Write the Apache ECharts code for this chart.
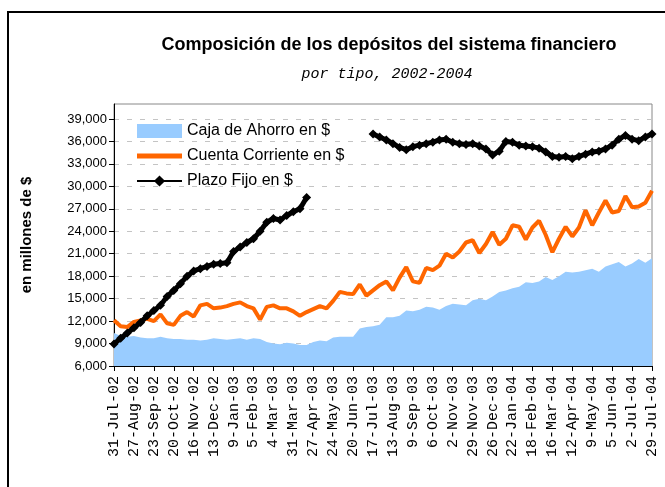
<!DOCTYPE html>
<html>
<head>
<meta charset="utf-8">
<script src="https://cdn.jsdelivr.net/npm/echarts@6/dist/echarts.min.js"></script>
<style>
  html, body { margin: 0; padding: 0; background: #fff; }
  #chart { width: 665px; height: 487px; }
</style>
</head>
<body>
<div id="chart"></div>
<script>
// dias desde el 31-Jul-02 (muestra cada 9 dias)
const days = [0, 9, 18, 27, 36, 45, 54, 63, 72, 81, 90, 99, 108, 117, 126, 135, 144, 153, 162, 171,
  180, 189, 198, 207, 216, 225, 234, 243, 252, 261, 270, 279, 288, 297, 306, 315, 324, 333, 342, 351,
  360, 369, 378, 387, 396, 405, 414, 423, 432, 441, 450, 459, 468, 477, 486, 495, 504, 513, 522, 531,
  540, 549, 558, 567, 576, 585, 594, 603, 612, 621, 630, 639, 648, 657, 666, 675, 684, 693, 702, 711,
  720, 729];

// Caja de Ahorro en $
const caja = [10400, 10000, 9900, 10000, 9800, 9700, 9700, 9900, 9700, 9600, 9600, 9500, 9500, 9400, 9500, 9700, 9600, 9500, 9600, 9700,
  9500, 9700, 9600, 9200, 9000, 8900, 9100, 9000, 8800, 8800, 9200, 9400, 9300, 9800, 9900, 9900, 9900, 11000, 11200, 11300,
  11500, 12500, 12500, 12700, 13400, 13300, 13500, 13900, 13800, 13500, 14000, 14300, 14200, 14100, 14800, 15000, 14800, 15300, 15900, 16100,
  16400, 16600, 17200, 17100, 17300, 17900, 17500, 18000, 18600, 18500, 18600, 18800, 19000, 18600, 19300, 19600, 19900, 19300, 19700, 20300,
  19800, 20400];

// Cuenta Corriente en $
const corriente = [12100, 11300, 11200, 11900, 12100, 12300, 12000, 12900, 11700, 11500, 12700, 13200, 12600, 14100, 14300, 13700, 13800, 14000, 14300, 14500,
  14000, 13700, 12200, 13900, 14100, 13700, 13700, 13300, 12700, 13200, 13600, 14000, 13700, 14700, 15900, 15700, 15600, 16900, 15400, 16100,
  16800, 17300, 16100, 17800, 19200, 17300, 17100, 19100, 18800, 19400, 21000, 20500, 21300, 22500, 22800, 21100, 22300, 23900, 22200, 23000,
  24800, 24600, 22900, 24500, 25400, 23500, 21200, 23000, 24600, 23300, 24500, 26800, 24800, 26500, 28100, 26500, 26700, 28700, 27200, 27300,
  27800, 29400];

// Plazo Fijo en $ (sin datos entre abril y julio de 2003)
const plazo = [8950, 9700, 10400, 11100, 11800, 12700, 13400, 14100, 15300, 16100, 17000, 18000, 18700, 19000, 19300, 19600, 19700, 19800, 21300, 21900,
  22500, 23000, 24000, 25200, 25700, 25500, 26100, 26600, 27000, 28500, null, null, null, null, null, null, null, null, null, 37000,
  36600, 36200, 35700, 35200, 34900, 35300, 35500, 35700, 35900, 36200, 36300, 35900, 35700, 35600, 35700, 35400, 35000, 34200, 34700, 36000,
  35900, 35500, 35400, 35300, 35100, 34600, 34000, 33900, 34000, 33700, 34000, 34300, 34600, 34700, 35000, 35500, 36300, 36800, 36300, 36100,
  36600, 37000];

const dateLabels = ['31-Jul-02', '27-Aug-02', '23-Sep-02', '20-Oct-02', '16-Nov-02', '13-Dec-02', '9-Jan-03',
  '5-Feb-03', '4-Mar-03', '31-Mar-03', '27-Apr-03', '24-May-03', '20-Jun-03', '17-Jul-03', '13-Aug-03',
  '9-Sep-03', '6-Oct-03', '2-Nov-03', '29-Nov-03', '26-Dec-03', '22-Jan-04', '18-Feb-04', '16-Mar-04',
  '12-Apr-04', '9-May-04', '5-Jun-04', '2-Jul-04', '29-Jul-04'];
const labelStep = 27;

const yTicks = [6000, 9000, 12000, 15000, 18000, 21000, 24000, 27000, 30000, 33000, 36000, 39000];

const pairs = (vals) => days.map((d, i) => [d, vals[i]]);

const chart = echarts.init(document.getElementById('chart'), null, { renderer: 'canvas' });

chart.setOption({
  backgroundColor: '#ffffff',
  animation: false,
  title: [{
    text: 'Composición de los depósitos del sistema financiero',
    left: 384, top: 31, textAlign: 'center',
    textStyle: { fontFamily: 'Liberation Sans', fontWeight: 'bold', fontSize: 18, color: '#000' }
  }, {
    text: 'por tipo, 2002-2004',
    left: 382, top: 62, textAlign: 'center',
    textStyle: { fontFamily: 'Liberation Mono', fontStyle: 'italic', fontWeight: 'normal', fontSize: 15, color: '#000' }
  }],
  graphic: [{
    type: 'rect',
    shape: { x: 8, y: 12, width: 700, height: 520 },
    style: { fill: null, stroke: '#000', lineWidth: 2 },
    silent: true
  }],
  legend: {
    orient: 'vertical',
    left: 131, top: 118,
    itemWidth: 45, itemHeight: 14, itemGap: 9,
    textStyle: { fontFamily: 'Liberation Sans', fontSize: 16, color: '#000' },
    data: [
      { name: 'Caja de Ahorro en $', icon: 'rect' },
      { name: 'Cuenta Corriente en $', icon: 'path://M0,0 L45,0 L45,5 L0,5 Z' },
      { name: 'Plazo Fijo en $' }
    ]
  },
  grid: {
    left: 114, right: 13, top: 104, bottom: 121,
    show: true, borderColor: '#888', borderWidth: 1
  },
  xAxis: {
    type: 'value',
    min: 0, max: 729, interval: labelStep,
    axisLine: { lineStyle: { color: '#000', width: 1 } },
    axisTick: { length: 5, lineStyle: { color: '#000' } },
    splitLine: { show: false },
    axisLabel: {
      rotate: 90, margin: 10, color: '#000',
      fontFamily: 'Liberation Mono', fontSize: 15,
      formatter: (v) => dateLabels[Math.round(v / labelStep)] || ''
    }
  },
  yAxis: {
    type: 'value',
    min: 6000, max: 41000, interval: 3000,
    name: 'en millones de $',
    nameLocation: 'middle', nameGap: 80, nameRotate: 90,
    nameTextStyle: { fontFamily: 'Liberation Sans', fontWeight: 'bold', fontSize: 15, color: '#000' },
    axisLine: { show: true, lineStyle: { color: '#000', width: 1 } },
    axisTick: { show: true, length: 5, lineStyle: { color: '#000' }, customValues: yTicks },
    splitLine: { show: true, lineStyle: { color: '#c4c4c4', type: [5, 8], width: 1 } },
    axisLabel: {
      margin: 7, color: '#000',
      fontFamily: 'Liberation Sans', fontSize: 13,
      customValues: yTicks,
      formatter: (v) => v.toLocaleString('en-US')
    }
  },
  series: [{
    name: 'Caja de Ahorro en $',
    type: 'line',
    data: pairs(caja),
    symbol: 'none',
    itemStyle: { color: '#99ccff' },
    lineStyle: { width: 0, color: '#99ccff' },
    areaStyle: { color: '#99ccff', opacity: 1 },
    z: 1
  }, {
    name: 'Cuenta Corriente en $',
    type: 'line',
    data: pairs(corriente),
    symbol: 'none',
    itemStyle: { color: '#ff6600' },
    lineStyle: { width: 4, color: '#ff6600' },
    z: 2
  }, {
    name: 'Plazo Fijo en $',
    type: 'line',
    data: pairs(plazo),
    symbol: 'diamond', symbolSize: 9, showAllSymbol: true,
    connectNulls: false,
    itemStyle: { color: '#000' },
    lineStyle: { width: 5, color: '#000' },
    z: 3
  }]
});
</script>
</body>
</html>
